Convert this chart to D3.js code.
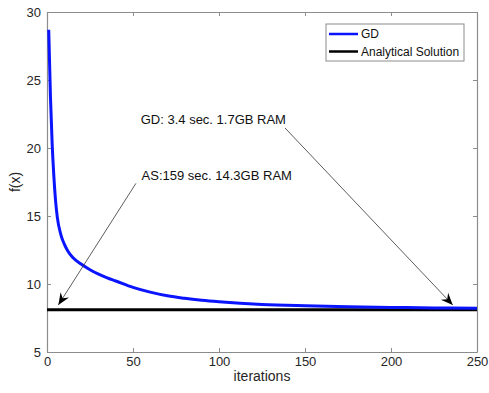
<!DOCTYPE html>
<html>
<head>
<meta charset="utf-8">
<script src="https://cdn.jsdelivr.net/npm/d3@7"></script>
<style>
  body { margin: 0; background: #fff; }
  svg text { font-family: "Liberation Sans", Arial, Helvetica, sans-serif; }
</style>
</head>
<body>
<div id="chart"></div>
<script>
// GD objective value per iteration
const iterations = [1, 2, 3, 4, 5, 6, 8, 10, 12, 15, 20, 25, 30, 35, 40, 50, 60, 70, 80, 90, 100, 125, 150, 175, 200, 225, 250];
const gdValues = [28.7, 23.8, 20.3, 17.9, 16.1, 14.9, 13.65, 12.95, 12.45, 11.95, 11.45, 11.05, 10.72, 10.45, 10.22, 9.75, 9.4, 9.13, 8.95, 8.81, 8.7, 8.5, 8.4, 8.33, 8.28, 8.24, 8.21];
const analyticalValue = 8.1;
const xTicks = [0, 50, 100, 150, 200, 250];
const yTicks = [5, 10, 15, 20, 25, 30];
const seriesNames = ['GD', 'Analytical Solution'];
const seriesColors = ['#0a14ff', '#000000'];
// text anchor, arrow tail and arrow tip, in data units
const notes = [
  { text: 'GD: 3.4 sec. 1.7GB RAM', at: [54.5, 21.76], tail: [138.4, 21.47], head: [235.9, 8.46] },
  { text: 'AS:159 sec. 14.3GB RAM', at: [55, 17.65], tail: [51.7, 17.4], head: [6.6, 8.46] }
];

const width = 489, height = 393;
const margin = { top: 12, right: 12, bottom: 41, left: 47 };
const innerW = width - margin.left - margin.right;
const innerH = height - margin.top - margin.bottom;

const svg = d3.select('#chart').append('svg')
  .attr('width', width)
  .attr('height', height);

const chart = svg.append('g')
  .attr('transform', `translate(${margin.left},${margin.top})`);

const x = d3.scaleLinear().domain([0, 250]).range([0, innerW]);
const y = d3.scaleLinear().domain([5, 30]).range([innerH, 0]);

const axisColor = '#8c8c8c';
const labelColor = '#262626';

// box axes, ticks pointing inward
function styleAxis(g) {
  g.selectAll('.domain').attr('stroke', axisColor).attr('stroke-width', 1.2);
  g.selectAll('.tick line').attr('stroke', axisColor);
  g.selectAll('.tick text').attr('fill', labelColor).style('font-size', '13px');
}

chart.append('g')
  .attr('transform', `translate(0,${innerH})`)
  .call(d3.axisBottom(x).tickValues(xTicks).tickSizeInner(-4).tickSizeOuter(0).tickPadding(5))
  .call(styleAxis);

chart.append('g')
  .call(d3.axisTop(x).tickValues(xTicks).tickSizeInner(-4).tickSizeOuter(0).tickFormat(''))
  .call(styleAxis);

chart.append('g')
  .call(d3.axisLeft(y).tickValues(yTicks).tickSizeInner(-4).tickSizeOuter(0).tickPadding(6))
  .call(styleAxis);

chart.append('g')
  .attr('transform', `translate(${innerW},0)`)
  .call(d3.axisRight(y).tickValues(yTicks).tickSizeInner(-4).tickSizeOuter(0).tickFormat(''))
  .call(styleAxis);

// axis labels
svg.append('text')
  .attr('x', margin.left + innerW / 2)
  .attr('y', 381)
  .attr('text-anchor', 'middle')
  .attr('fill', labelColor)
  .style('font-size', '14px')
  .text('iterations');

svg.append('text')
  .attr('transform', `translate(20,${margin.top + innerH / 2}) rotate(-90)`)
  .attr('text-anchor', 'middle')
  .attr('fill', labelColor)
  .style('font-size', '14px')
  .text('f(x)');

// series
const gdData = iterations.map((it, i) => ({ it, v: gdValues[i] }));

chart.append('line')
  .attr('x1', x(0)).attr('x2', x(250))
  .attr('y1', y(analyticalValue)).attr('y2', y(analyticalValue))
  .attr('stroke', seriesColors[1])
  .attr('stroke-width', 3);

chart.append('path')
  .datum(gdData)
  .attr('fill', 'none')
  .attr('stroke', seriesColors[0])
  .attr('stroke-width', 3)
  .attr('d', d3.line().x(d => x(d.it)).y(d => y(d.v)).curve(d3.curveMonotoneX));

// annotation arrows
svg.append('defs').append('marker')
  .attr('id', 'head')
  .attr('viewBox', '-12 -6 13 12')
  .attr('refX', 0).attr('refY', 0)
  .attr('markerWidth', 13).attr('markerHeight', 12)
  .attr('markerUnits', 'userSpaceOnUse')
  .attr('orient', 'auto')
  .append('path')
  .attr('d', 'M0,0 L-12,-5 L-8,0 L-12,5 Z')
  .attr('fill', '#000');

notes.forEach(n => {
  chart.append('line')
    .attr('x1', x(n.tail[0])).attr('y1', y(n.tail[1]))
    .attr('x2', x(n.head[0])).attr('y2', y(n.head[1]))
    .attr('stroke', '#333')
    .attr('stroke-width', 0.8)
    .attr('marker-end', 'url(#head)');
  chart.append('text')
    .attr('x', x(n.at[0])).attr('y', y(n.at[1]))
    .attr('fill', '#111')
    .style('font-size', '13px')
    .text(n.text);
});

// legend
const legend = svg.append('g').attr('transform', 'translate(326,24)');
legend.append('rect')
  .attr('width', 138).attr('height', 37)
  .attr('fill', '#fff')
  .attr('stroke', axisColor);

seriesNames.forEach((name, i) => {
  const ly = 10 + i * 17.5;
  legend.append('line')
    .attr('x1', 3).attr('x2', 32)
    .attr('y1', ly).attr('y2', ly)
    .attr('stroke', seriesColors[i])
    .attr('stroke-width', 2.5);
  legend.append('text')
    .attr('x', 35).attr('y', ly)
    .attr('dy', '0.35em')
    .attr('fill', '#111')
    .style('font-size', '12px')
    .text(name);
});
</script>
</body>
</html>
